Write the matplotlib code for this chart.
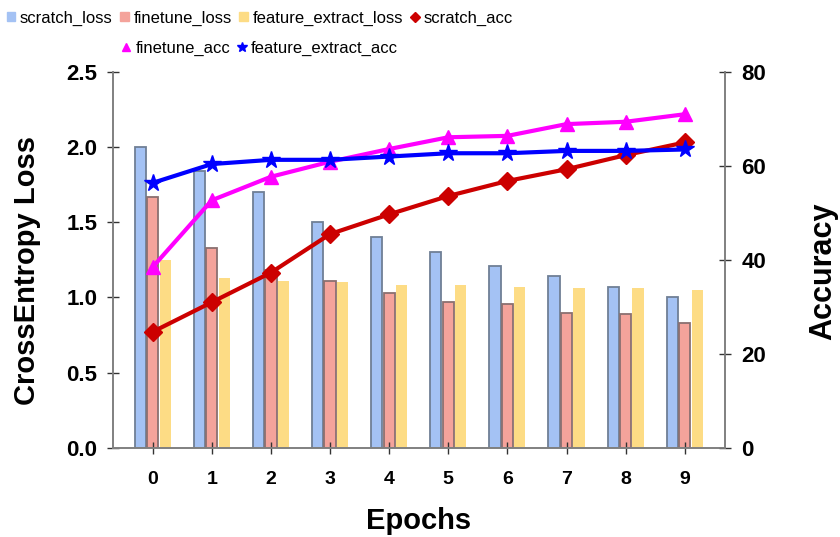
import matplotlib.pyplot as plt
import numpy as np
from matplotlib.lines import Line2D
from matplotlib.patches import Patch

plt.rcParams["font.family"] = ["Liberation Sans", "DejaVu Sans"]

epochs = list(range(10))
scratch_loss = [2.00, 1.84, 1.70, 1.50, 1.40, 1.30, 1.21, 1.14, 1.07, 1.00]
finetune_loss = [1.67, 1.33, 1.18, 1.11, 1.03, 0.97, 0.96, 0.90, 0.89, 0.83]
feature_extract_loss = [1.25, 1.13, 1.11, 1.10, 1.08, 1.08, 1.07, 1.06, 1.06, 1.05]
scratch_acc = [24.7, 31.0, 37.3, 45.5, 49.7, 53.6, 56.8, 59.3, 62.3, 65.0]
finetune_acc = [38.5, 52.7, 57.7, 60.9, 63.6, 66.1, 66.4, 68.9, 69.4, 71.0]
feature_extract_acc = [56.4, 60.4, 61.3, 61.3, 62.0, 62.7, 62.7, 63.2, 63.2, 63.5]

c_blue_bar = "#a4c2f4"
c_red_bar = "#f4a39b"
c_yel_bar = "#fddc85"
c_scr = "#cc0000"
c_fin = "#ff00ff"
c_fe = "#0000ff"
gray = "#808080"

fig = plt.figure(figsize=(8.4, 5.37), dpi=100)
ax1 = fig.add_axes([0.134, 0.166, 0.729, 0.700])
ax2 = ax1.twinx()

x = np.arange(len(epochs))
w = 0.19
ax1.bar(x - 0.21, scratch_loss, w, color=c_blue_bar, edgecolor="#6f7f95", linewidth=1.3)
ax1.bar(x, finetune_loss, w, color=c_red_bar, edgecolor="#8a7070", linewidth=1.3)
ax1.bar(x + 0.21, feature_extract_loss, w, color=c_yel_bar, linewidth=0)

ax2.plot(x, scratch_acc, color=c_scr, lw=3, marker="D", ms=9)
ax2.plot(x, finetune_acc, color=c_fin, lw=3, marker="^", ms=10)
ax2.plot(x, feature_extract_acc, color=c_fe, lw=3, marker="*", ms=13)

ax1.set_xlim(-0.68, 9.68)
ax1.set_ylim(0, 2.5)
ax2.set_ylim(0, 80)
ax1.set_yticks([0, 0.5, 1.0, 1.5, 2.0, 2.5])
ax1.set_yticklabels(["0.0", "0.5", "1.0", "1.5", "2.0", "2.5"])
ax2.set_yticks([0, 20, 40, 60, 80])
ax1.set_xticks(x)
ax1.set_xticklabels([str(e) for e in epochs])

for ax in (ax1, ax2):
    ax.spines["top"].set_visible(False)
    for s in ("left", "right", "bottom"):
        ax.spines[s].set_color(gray)
        ax.spines[s].set_linewidth(1.2)
    ax.tick_params(direction="inout", length=8, width=1, color="#333333")

ax1.tick_params(axis="y", labelsize=16, pad=7)
ax1.tick_params(axis="x", labelsize=14, pad=13)
ax2.tick_params(axis="y", labelsize=16, pad=8)
for lab in ax1.get_yticklabels() + ax2.get_yticklabels() + ax1.get_xticklabels():
    lab.set_fontweight("bold")

ax1.set_ylabel("CrossEntropy Loss", fontsize=21, fontweight="bold")
ax2.set_ylabel("Accuracy", fontsize=22, fontweight="bold")
ax1.yaxis.set_label_coords(-0.117, 0.473)
ax2.yaxis.set_label_coords(1.136, 0.47)
ax1.set_xlabel("Epochs", fontsize=21, fontweight="bold", labelpad=13)

row1 = [
    Patch(color=c_blue_bar, label="scratch_loss"),
    Patch(color=c_red_bar, label="finetune_loss"),
    Patch(color=c_yel_bar, label="feature_extract_loss"),
    Line2D([], [], color=c_scr, marker="D", ls="", ms=5, label="scratch_acc"),
]
row2 = [
    Line2D([], [], color=c_fin, marker="^", ls="", ms=6, label="finetune_acc"),
    Line2D([], [], color=c_fe, marker="*", ls="", ms=7, label="feature_extract_acc"),
]
leg_kw = dict(loc="center", frameon=False, fontsize=12,
              handlelength=0.5, handleheight=0.5, handletextpad=0.3,
              columnspacing=0.45, borderpad=0)
fig.legend(handles=row1, ncol=4, bbox_to_anchor=(260 / 840, 1 - 18 / 537), **leg_kw)
fig.legend(handles=row2, ncol=2, bbox_to_anchor=(260 / 840, 1 - 48 / 537), **leg_kw)

plt.savefig("out.png", dpi=100)
